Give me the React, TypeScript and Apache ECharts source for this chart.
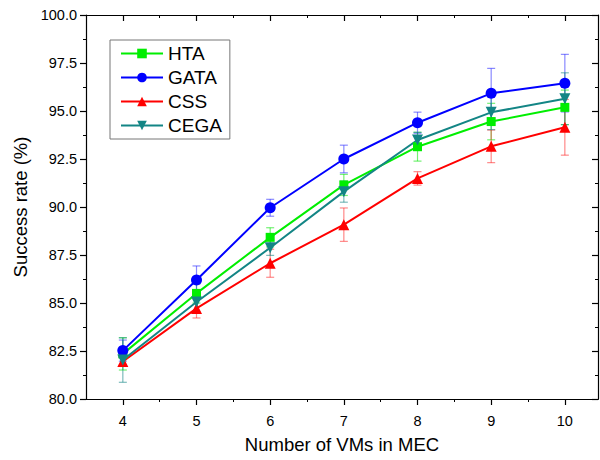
import React, { useEffect, useRef } from "react";
import * as echarts from "echarts";

const vmCounts = [4, 5, 6, 7, 8, 9, 10];
const seriesNames = ["HTA", "GATA", "CSS", "CEGA"];
const htaValues = [82.35, 85.5, 88.42, 91.15, 93.14, 94.45, 95.19];
const gataValues = [82.52, 86.2, 89.96, 92.5, 94.39, 95.92, 96.45];
const cssValues = [81.95, 84.72, 87.07, 89.08, 91.49, 93.16, 94.15];
const cegaValues = [82.03, 85.05, 87.88, 90.8, 93.49, 94.93, 95.64];
const htaErrors = [0.84, 0.5, 0.5, 0.55, 0.75, 0.95, 0.9];
const gataErrors = [0.55, 0.73, 0.44, 0.72, 0.55, 1.3, 1.5];
const cssErrors = [0.2, 0.5, 0.73, 0.87, 0.35, 0.85, 1.45];
const cegaErrors = [1.16, 0.5, 0.4, 0.55, 0.4, 0.9, 1.35];
const xMinorTicks = [4.5, 5.5, 6.5, 7.5, 8.5, 9.5];

const colors = ["#00ee00", "#0000ff", "#ff0000", "#138585"];
const barColors = ["rgba(0,230,0,0.55)", "rgba(40,40,255,0.55)", "rgba(255,40,40,0.55)", "rgba(19,133,133,0.55)"];
const symbols = ["rect", "circle", "triangle", "path://M0,0 L10,0 L5,9 Z"];
const symbolSizes = [9, 11, 11, 11];

export default function App() {
  const ref = useRef<HTMLDivElement>(null);
  useEffect(() => {
    document.body.style.margin = "0";
    const chart = echarts.init(ref.current!, null, { renderer: "svg" });
    const values = [htaValues, gataValues, cssValues, cegaValues];
    const errors = [htaErrors, gataErrors, cssErrors, cegaErrors];
    const font = "Liberation Sans";
    const xMin = 3.5;
    const xMax = 10.45;

    const baseX = {
      type: "value",
      min: xMin,
      max: xMax,
      splitLine: { show: false },
      axisLine: { show: true, lineStyle: { color: "#000", width: 1.2 } },
    };
    const xAxes: any[] = [
      {
        ...baseX,
        position: "bottom",
        name: "Number of VMs in MEC",
        nameLocation: "middle",
        nameGap: 36,
        nameTextStyle: { fontFamily: font, fontSize: 18.5, color: "#000" },
        axisTick: { show: true, length: 6, inside: false, customValues: vmCounts, lineStyle: { color: "#000", width: 1.2 } },
        axisLabel: { show: true, customValues: vmCounts, margin: 14, fontFamily: font, fontSize: 14.5, color: "#000" },
      },
      {
        ...baseX,
        position: "bottom",
        axisTick: { show: true, length: 3, inside: false, customValues: xMinorTicks, lineStyle: { color: "#000", width: 1 } },
        axisLabel: { show: false },
      },
      {
        ...baseX,
        position: "top",
        axisTick: { show: true, length: 6, inside: true, customValues: vmCounts, lineStyle: { color: "#000", width: 1.2 } },
        axisLabel: { show: false },
      },
      {
        ...baseX,
        position: "top",
        axisTick: { show: true, length: 3, inside: true, customValues: xMinorTicks, lineStyle: { color: "#000", width: 1 } },
        axisLabel: { show: false },
      },
    ];
    const baseY = {
      type: "value",
      min: 80,
      max: 100,
      interval: 2.5,
      splitLine: { show: false },
      axisLine: { show: true, lineStyle: { color: "#000", width: 1.2 } },
    };
    const yAxes: any[] = [
      {
        ...baseY,
        position: "left",
        name: "Success rate (%)",
        nameLocation: "middle",
        nameGap: 56,
        nameTextStyle: { fontFamily: font, fontSize: 18.5, color: "#000" },
        axisTick: { show: true, length: 6, inside: false, lineStyle: { color: "#000", width: 1.2 } },
        minorTick: { show: true, splitNumber: 2, length: 3, lineStyle: { color: "#000", width: 1 } },
        axisLabel: { show: true, margin: 9, fontFamily: font, fontSize: 14.5, color: "#000", formatter: (v: number) => v.toFixed(1) },
      },
      {
        ...baseY,
        position: "right",
        axisTick: { show: true, length: 6, inside: true, lineStyle: { color: "#000", width: 1.2 } },
        minorTick: { show: true, splitNumber: 2, length: 3, lineStyle: { color: "#000", width: 1 } },
        axisLabel: { show: false },
      },
    ];

    const errorSeries = seriesNames.map((name, si) => ({
      type: "custom",
      name: name + "-err",
      xAxisIndex: 0,
      yAxisIndex: 0,
      z: 1,
      silent: true,
      data: vmCounts.map((x, i) => [x, values[si][i], errors[si][i]]),
      renderItem: (params: any, api: any) => {
        const x = api.value(0);
        const y = api.value(1);
        const e = api.value(2);
        const top = api.coord([x, y + e]);
        const bot = api.coord([x, y - e]);
        const w = 4;
        const style = { stroke: barColors[si], lineWidth: 1.2 };
        return {
          type: "group",
          children: [
            { type: "line", shape: { x1: top[0], y1: top[1], x2: bot[0], y2: bot[1] }, style },
            { type: "line", shape: { x1: top[0] - w, y1: top[1], x2: top[0] + w, y2: top[1] }, style },
            { type: "line", shape: { x1: bot[0] - w, y1: bot[1], x2: bot[0] + w, y2: bot[1] }, style },
          ],
        };
      },
    }));

    const lineSeries = seriesNames.map((name, si) => ({
      type: "line",
      name,
      xAxisIndex: 0,
      yAxisIndex: 0,
      z: 3,
      data: vmCounts.map((x, i) => [x, values[si][i]]),
      symbol: symbols[si],
      symbolSize: symbolSizes[si],
      showAllSymbol: true,
      lineStyle: { color: colors[si], width: 2 },
      itemStyle: { color: colors[si] },
    }));

    chart.setOption({
      animation: false,
      backgroundColor: "#fff",
      grid: { left: 86, right: 2, top: 15, bottom: 61, containLabel: false },
      legend: {
        data: seriesNames,
        orient: "vertical",
        left: 110,
        top: 40,
        padding: [4, 8, 4, 10],
        itemWidth: 42,
        itemHeight: 12,
        itemGap: 5,
        borderColor: "#777",
        borderWidth: 1,
        textStyle: { fontFamily: font, fontSize: 19, color: "#000" },
      },
      xAxis: xAxes,
      yAxis: yAxes,
      series: [...errorSeries, ...lineSeries],
    });
    return () => chart.dispose();
  }, []);
  return <div ref={ref} style={{ width: 600, height: 460, position: "absolute", left: 0, top: 0 }} />;
}
